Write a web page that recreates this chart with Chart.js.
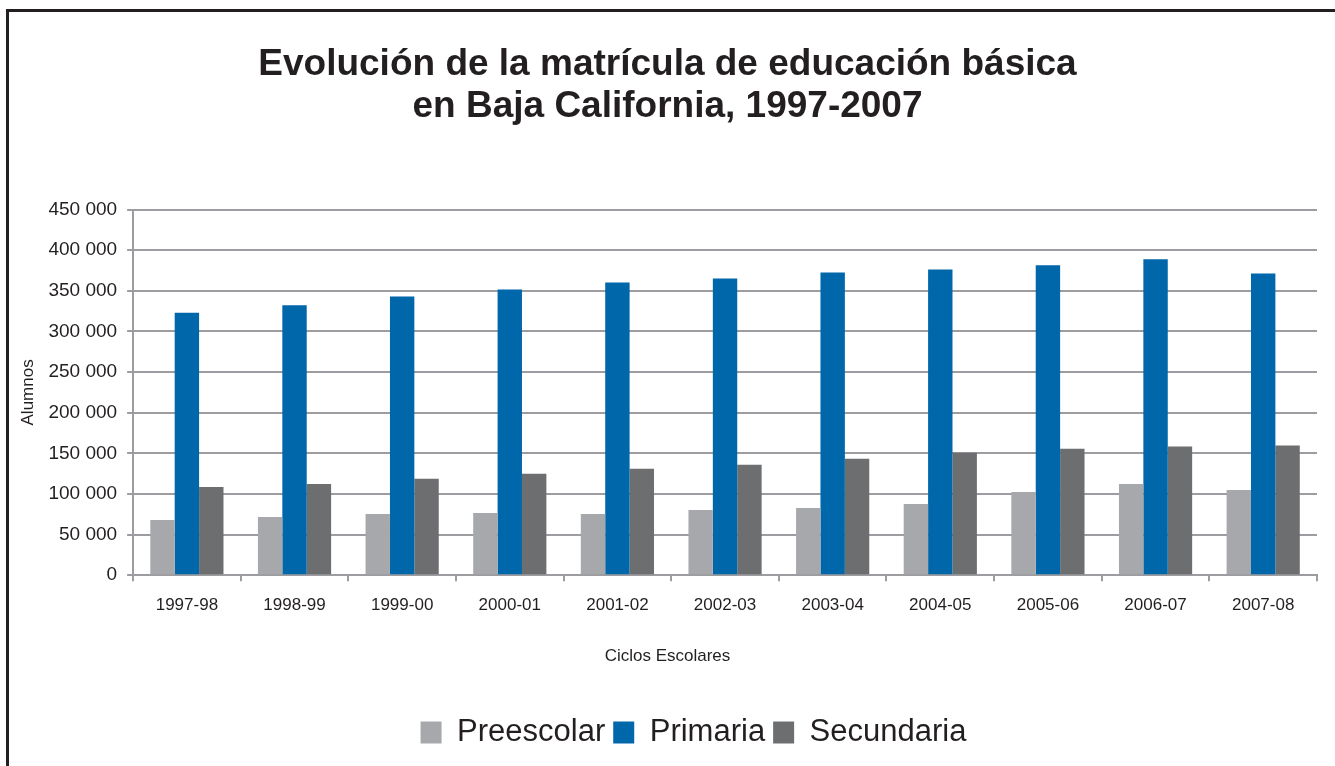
<!DOCTYPE html>
<html>
<head>
<meta charset="utf-8">
<script src="https://cdn.jsdelivr.net/npm/chart.js@4"></script>
<style>
  html, body { margin: 0; padding: 0; background: #fff; overflow: hidden; }
  #wrap { position: absolute; left: 0; top: 0; width: 1335px; height: 766px; }
  #frame {
    position: absolute; left: 6px; top: 9px; width: 1400px; height: 800px;
    border-left: 3px solid #231f20; border-top: 3px solid #231f20;
    pointer-events: none;
  }
</style>
</head>
<body>
<div id="wrap"><canvas id="chart" width="1335" height="766"></canvas></div>
<div id="frame"></div>
<script>
"use strict";

// Ciclos escolares
const CICLOS = ["1997-98", "1998-99", "1999-00", "2000-01", "2001-02", "2002-03",
                "2003-04", "2004-05", "2005-06", "2006-07", "2007-08"];

// Alumnos por nivel
const PREESCOLAR = [67800, 71500, 75200, 76500, 75200, 80200, 82700, 87600, 102500, 112400, 105000];
const PRIMARIA   = [323200, 332200, 343000, 351600, 360300, 365300, 372700, 376400, 381400, 388800, 371500];
const SECUNDARIA = [108700, 112400, 118600, 124800, 131000, 136000, 143400, 150800, 155800, 158300, 159500];

const COLORS = {
  pre:  "#a7a8ab",
  pri:  "#0067aa",
  sec:  "#6d6e70",
  grid: "#9d9da1",
  text: "#231f20",
};

const FONT = "'Liberation Sans', Arial, sans-serif";

function fmtMiles(v) {
  return String(v).replace(/\B(?=(\d{3})+(?!\d))/g, " ");
}

// la leyenda del original está algo a la derecha del centro
const legendShift = {
  id: "legendShift",
  afterLayout(chart) {
    const lg = chart.legend;
    if (!lg) return;
    lg.left += 26;
    lg.right += 26;
  },
};

const ctx = document.getElementById("chart").getContext("2d");

new Chart(ctx, {
  type: "bar",
  data: {
    labels: CICLOS,
    datasets: [
      { label: "Preescolar", data: PREESCOLAR, backgroundColor: COLORS.pre },
      { label: "Primaria",   data: PRIMARIA,   backgroundColor: COLORS.pri },
      { label: "Secundaria", data: SECUNDARIA, backgroundColor: COLORS.sec },
    ],
  },
  plugins: [legendShift],
  options: {
    responsive: false,
    animation: false,
    devicePixelRatio: 1,
    datasets: { bar: { barPercentage: 1, categoryPercentage: 0.68 } },
    layout: { padding: { left: 18, right: 18, top: 44, bottom: 8 } },
    plugins: {
      title: {
        display: true,
        text: ["Evolución de la matrícula de educación básica", "en Baja California, 1997-2007"],
        color: COLORS.text,
        font: { family: "'Liberation Sans Narrow', 'Liberation Sans', Arial, sans-serif", size: 37, weight: "bold", lineHeight: 1.13 },
        padding: { top: 0, bottom: 82 },
      },
      // título del eje x, centrado en la página como en el original
      subtitle: {
        display: true,
        position: "bottom",
        weight: 500,
        text: "Ciclos Escolares",
        color: COLORS.text,
        font: { family: FONT, size: 17, weight: "normal" },
        padding: { top: 17, bottom: 42 },
      },
      legend: {
        position: "bottom",
        labels: {
          color: COLORS.text,
          font: { family: FONT, size: 31 },
          boxWidth: 21,
          boxHeight: 22,
          padding: 8,
        },
      },
      tooltip: { enabled: false },
    },
    scales: {
      x: {
        grid: {
          offset: true,
          drawOnChartArea: false,
          color: COLORS.grid,
          lineWidth: 2,
          tickLength: 6,
        },
        border: { color: COLORS.grid, width: 2 },
        ticks: { color: COLORS.text, font: { family: FONT, size: 17 }, padding: 14, maxRotation: 0 },
      },
      y: {
        min: 0,
        max: 450000,
        grid: { color: COLORS.grid, lineWidth: 2, tickLength: 6 },
        border: { color: COLORS.grid, width: 2 },
        ticks: {
          stepSize: 50000,
          color: COLORS.text,
          font: { family: FONT, size: 19 },
          padding: 10,
          callback: v => fmtMiles(v),
        },
        title: {
          display: true,
          text: "Alumnos",
          color: COLORS.text,
          font: { family: FONT, size: 17 },
          padding: { top: 0, bottom: 0 },
        },
      },
    },
  },
});
</script>
</body>
</html>
